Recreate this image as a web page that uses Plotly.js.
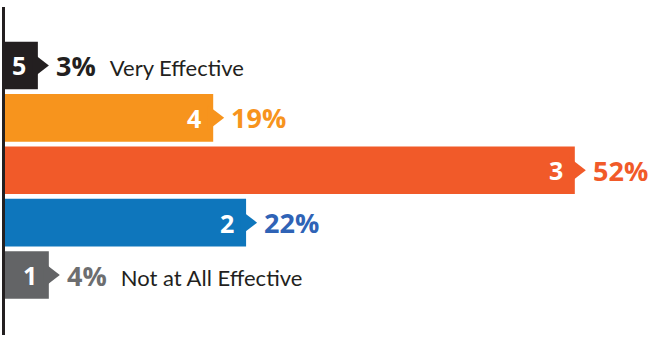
<!DOCTYPE html>
<html>
<head>
<meta charset="utf-8">
<script src="https://cdn.plot.ly/plotly-3.0.1.min.js"></script>
<style>html,body{margin:0;padding:0;background:#fff;}#chart{width:657px;height:353px;}</style>
</head>
<body>
<div id="chart"></div>
<script>
// Data
const ratings = [5, 4, 3, 2, 1];
const percents = [3, 19, 52, 22, 4];
const descriptions = ["Very Effective", "", "", "", "Not at All Effective"];
const barColors = ["#231F20", "#F7941D", "#F15A29", "#0E76BC", "#636466"];
const pctColors = ["#231F20", "#F7941D", "#F15A29", "#2F63B6", "#6D6E70"];

const BOLD_FONT = "'Open Sans', sans-serif";

const bars = {
  type: "bar",
  orientation: "h",
  x: percents,
  y: ratings,
  marker: {color: barColors, line: {width: 0}},
  hoverinfo: "skip",
  showlegend: false
};

const tips = {
  type: "scatter",
  mode: "markers",
  x: percents,
  y: ratings,
  marker: {symbol: "triangle-right", size: 22, color: barColors, line: {width: 0}},
  hoverinfo: "skip",
  showlegend: false,
  cliponaxis: false
};

const annotations = [];
ratings.forEach((r, i) => {
  annotations.push({
    x: percents[i], y: r, xref: "x", yref: "y",
    text: "<b>" + r + "</b>",
    showarrow: false, xanchor: "right", yanchor: "middle",
    xshift: -10, yshift: 0,
    font: {family: BOLD_FONT, size: 25, color: "#FFFFFF"}
  });
  let t = "<b>" + percents[i] + "%</b>";
  if (descriptions[i]) {
    t += "&nbsp;&nbsp;<span style=\"font-family:Lato;font-weight:normal;color:#231F20;font-size:22px\">" + descriptions[i] + "</span>";
  }
  annotations.push({
    x: percents[i], y: r, xref: "x", yref: "y",
    text: t,
    showarrow: false, xanchor: "left", yanchor: "middle",
    xshift: 16, yshift: 0,
    font: {family: BOLD_FONT, size: 27, color: pctColors[i]}
  });
});

const layout = {
  width: 657, height: 353,
  margin: {l: 5, r: 0, t: 7, b: 18, pad: 0},
  paper_bgcolor: "#FFFFFF",
  plot_bgcolor: "#FFFFFF",
  bargap: 0.09,
  xaxis: {range: [0, 59.5], visible: false, fixedrange: true},
  yaxis: {
    range: [-0.145, 6.116],
    showgrid: false, zeroline: false, showticklabels: false, ticks: "",
    showline: true, linecolor: "#231F20", linewidth: 3, fixedrange: true
  },
  annotations: annotations
};

Plotly.newPlot("chart", [bars, tips], layout, {displayModeBar: false, staticPlot: true});
</script>
</body>
</html>
